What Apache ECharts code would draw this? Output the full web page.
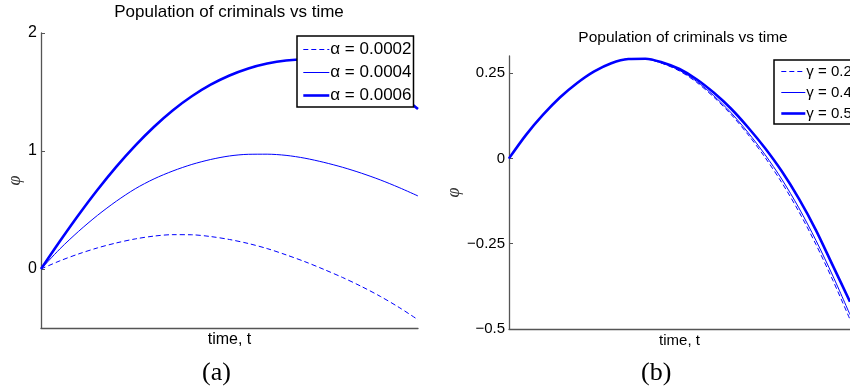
<!DOCTYPE html>
<html>
<head>
<meta charset="utf-8">
<script src="https://cdn.jsdelivr.net/npm/echarts@6/dist/echarts.min.js"></script>
<style>html,body{margin:0;padding:0;background:#fff}#c{width:850px;height:392px}</style>
</head>
<body>
<div id="c"></div>
<script>
// time grid (normalised, no tick labels shown)
const tValues = [0,0.05,0.1,0.15,0.2,0.25,0.3,0.35,0.4,0.45,0.5,0.55,0.6,0.65,0.7,0.75,0.8,0.85,0.9,0.95,1];

// panel (a)
const alpha0002 = [0,0.069,0.128,0.179,0.221,0.255,0.279,0.291,0.29,0.275,0.25,0.216,0.173,0.12,0.062,-0.003,-0.072,-0.148,-0.232,-0.326,-0.43];
const alpha0004 = [0,0.17,0.32,0.455,0.575,0.68,0.764,0.831,0.886,0.928,0.958,0.972,0.973,0.963,0.939,0.904,0.862,0.812,0.755,0.69,0.619];
const alpha0006 = [0,0.235,0.46,0.672,0.868,1.046,1.206,1.346,1.464,1.562,1.64,1.70,1.742,1.767,1.775,1.762,1.725,1.665,1.585,1.48,1.355];

// panel (b)
const gamma02 = [0,0.069,0.128,0.179,0.221,0.255,0.279,0.291,0.291,0.278,0.256,0.223,0.18,0.13,0.071,0.004,-0.071,-0.156,-0.252,-0.358,-0.472];
const gamma04 = [0,0.069,0.128,0.179,0.221,0.255,0.279,0.291,0.291,0.279,0.258,0.226,0.184,0.135,0.077,0.012,-0.061,-0.145,-0.24,-0.345,-0.458];
const gamma05 = [0,0.069,0.128,0.179,0.221,0.255,0.279,0.291,0.292,0.281,0.262,0.232,0.193,0.147,0.092,0.031,-0.038,-0.118,-0.21,-0.315,-0.42];

const yTicksA = [0,1,2];
const yTicksB = [-0.5,-0.25,0,0.25];

const titleText = 'Population of criminals vs time';
const namesA = ['α = 0.0002','α = 0.0004','α = 0.0006'];
const namesB = ['γ = 0.2','γ = 0.4','γ = 0.5'];

const SANS = 'Liberation Sans, Arial, Helvetica, sans-serif';
const BLUE = '#0000ff';
const AXIS = '#555';
const pairs = arr => tValues.map((t,i)=>[t,arr[i]]);
const fmt = v => String(v).replace('-', '\u2212');

function xAx(grid, fs){
  return {type:'value', gridIndex:grid, min:0, max:1,
    name:'time, t', nameLocation:'middle', nameGap:4,
    nameTextStyle:{fontFamily:SANS, fontSize:fs, color:'#000'},
    axisLine:{onZero:false, lineStyle:{color:AXIS, width:1.3}},
    axisTick:{show:false}, axisLabel:{show:false}, splitLine:{show:false}};
}
function yAx(grid, min, max, ticks, fs, gap){
  return {type:'value', gridIndex:grid, min:min, max:max,
    name:'φ', nameLocation:'middle', nameRotate:90, nameGap:gap,
    nameTextStyle:{fontFamily:'Liberation Serif, DejaVu Serif, serif', fontStyle:'italic', fontSize:18, color:'#333'},
    axisLine:{show:true, lineStyle:{color:AXIS, width:1.3}},
    axisTick:{show:true, inside:true, length:4, customValues:ticks, lineStyle:{color:AXIS}},
    axisLabel:{customValues:ticks, formatter:fmt, fontFamily:SANS, fontSize:fs, color:'#000', margin:4},
    splitLine:{show:false}};
}
function ser(name, data, xi, type, width){
  return {name:name, type:'line', xAxisIndex:xi, yAxisIndex:xi, data:pairs(data),
    symbol:'none', showSymbol:false, smooth:0.3, color:BLUE,
    lineStyle:{color:BLUE, width:width, type:type}, z:2};
}
const hideSym = {opacity:0, color:'transparent', borderWidth:0};

const chart = echarts.init(document.getElementById('c'), null, {renderer:'canvas'});
chart.setOption({
  animation:false,
  backgroundColor:'#fff',
  title:[
    {text:titleText, left:229, top:4, textAlign:'center', padding:0,
     textStyle:{fontFamily:SANS, fontSize:17, fontWeight:'normal', color:'#000'}},
    {text:titleText, left:683, top:30, textAlign:'center', padding:0,
     textStyle:{fontFamily:SANS, fontSize:15.5, fontWeight:'normal', color:'#000'}}
  ],
  grid:[
    {left:41, top:33, width:377, height:295},
    {left:509, top:56, width:349, height:273}
  ],
  xAxis:[xAx(0,16), xAx(1,15)],
  yAxis:[yAx(0,-0.5,2,yTicksA,16,11), yAx(1,-0.5,0.3,yTicksB,15,44)],
  legend:[
    {data:namesA, orient:'vertical', left:297, top:36, itemWidth:26, itemHeight:14, itemGap:6,
     padding:[5,2,3,5], borderColor:'#000', borderWidth:1.5, backgroundColor:'#fff', z:10,
     itemStyle:hideSym, lineStyle:{width:'inherit'},
     textStyle:{fontFamily:SANS, fontSize:17, color:'#000', padding:[0,0,0,-4]}},
    {data:namesB, orient:'vertical', left:774, top:60, itemWidth:24, itemHeight:13, itemGap:6,
     padding:[4,40,3,6], borderColor:'#000', borderWidth:1.5, backgroundColor:'#fff', z:10,
     itemStyle:hideSym, lineStyle:{width:'inherit'},
     textStyle:{fontFamily:SANS, fontSize:15, color:'#000', padding:[0,0,0,-4]}}
  ],
  series:[
    ser(namesA[0], alpha0002, 0, [5,3], 1),
    ser(namesA[1], alpha0004, 0, 'solid', 1),
    ser(namesA[2], alpha0006, 0, 'solid', 2.6),
    ser(namesB[0], gamma02, 1, [5,3], 1),
    ser(namesB[1], gamma04, 1, 'solid', 1),
    ser(namesB[2], gamma05, 1, 'solid', 2.6)
  ],
  graphic:[
    {type:'text', left:217-15, top:360, style:{text:'(a)', font:'26px "Liberation Serif", serif', fill:'#000'}},
    {type:'text', left:656-15, top:360, style:{text:'(b)', font:'26px "Liberation Serif", serif', fill:'#000'}}
  ]
});
</script>
</body>
</html>
